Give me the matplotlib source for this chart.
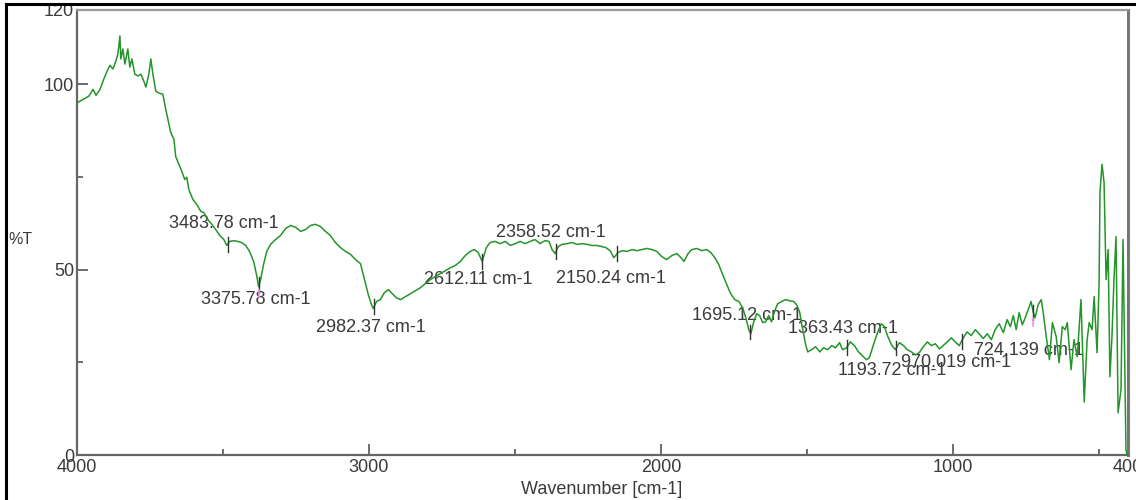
import numpy as np
import matplotlib
matplotlib.use("Agg")
import matplotlib.pyplot as plt
from matplotlib.lines import Line2D
from matplotlib.ticker import FixedLocator

plt.rcParams['font.family'] = ['Liberation Sans', 'DejaVu Sans']

# FTIR spectrum: wavenumber (cm-1) and transmittance (%T)
wavenumber = [
    3997, 3979, 3959, 3945, 3935, 3925, 3918, 3908, 3897, 3887, 3877, 3867, 3860, 3853, 3850,
    3843, 3836, 3826, 3819, 3812, 3802, 3791, 3781, 3771, 3764, 3754, 3747, 3740, 3730, 3720,
    3706, 3696, 3685, 3679, 3668, 3662, 3651, 3641, 3631, 3624, 3617, 3603, 3590, 3576, 3566,
    3552, 3538, 3525, 3511, 3497, 3487, 3477, 3463, 3450, 3436, 3422, 3409, 3395, 3385, 3378,
    3371, 3361, 3350, 3337, 3320, 3303, 3285, 3268, 3251, 3234, 3217, 3200, 3183, 3166, 3149,
    3132, 3115, 3097, 3080, 3063, 3046, 3029, 3015, 3002, 2991, 2985, 2974, 2961, 2947, 2933,
    2920, 2906, 2892, 2875, 2858, 2841, 2824, 2807, 2790, 2773, 2756, 2738, 2721, 2704, 2687,
    2670, 2653, 2639, 2626, 2612, 2598, 2585, 2568, 2550, 2533, 2516, 2499, 2482, 2465, 2448,
    2431, 2414, 2397, 2383, 2373, 2362, 2352, 2338, 2321, 2304, 2287, 2270, 2253, 2236, 2219,
    2202, 2188, 2174, 2161, 2147, 2133, 2116, 2099, 2082, 2065, 2048, 2031, 2014, 1997, 1980,
    1962, 1945, 1931, 1921, 1907, 1894, 1877, 1860, 1843, 1829, 1815, 1802, 1788, 1774, 1761,
    1747, 1733, 1720, 1709, 1699, 1692, 1682, 1672, 1662, 1651, 1641, 1631, 1621, 1610, 1600,
    1586, 1573, 1559, 1545, 1535, 1525, 1514, 1504, 1497, 1484, 1470, 1456, 1443, 1429, 1415,
    1402, 1388, 1378, 1364, 1351, 1337, 1323, 1310, 1296, 1286, 1272, 1258, 1245, 1234, 1224,
    1210, 1197, 1183, 1169, 1156, 1142, 1128, 1115, 1101, 1087, 1074, 1060, 1046, 1033, 1019,
    1005, 992, 978, 964, 951, 937, 923, 910, 896, 882, 868, 855, 841, 827, 814,
    803, 793, 783, 773, 762, 752, 742, 732, 725, 718, 708, 697, 690, 680, 669,
    659, 646, 636, 625, 615, 608, 595, 585, 574, 561, 550, 540, 533, 523, 516,
    506, 499, 496, 489, 482, 475, 468, 462, 455, 448, 441, 434, 424, 417, 407,
    403,
]
transmittance = [
    95.1, 95.9, 96.8, 98.6, 97.0, 98.1, 99.2, 101.4, 103.5, 105.1, 104.1, 106.2, 108.1, 113.0, 106.8,
    109.5, 105.4, 109.5, 104.6, 106.8, 102.7, 102.2, 102.7, 100.8, 99.2, 102.7, 106.8, 102.7, 98.1, 97.6,
    97.3, 93.2, 89.2, 87.0, 85.1, 80.5, 78.4, 76.5, 74.3, 74.9, 71.6, 68.9, 67.6, 65.7, 65.4,
    63.5, 62.2, 60.8, 59.2, 58.1, 56.5, 57.6, 57.8, 57.6, 57.3, 56.5, 54.9, 52.2, 48.6, 45.4,
    47.3, 51.4, 54.9, 56.8, 58.1, 59.2, 61.1, 61.9, 61.4, 60.3, 60.8, 61.9, 62.2, 61.6, 60.3,
    59.2, 57.3, 55.9, 54.9, 54.1, 52.7, 51.6, 47.3, 43.2, 40.5, 39.5, 41.4, 41.9, 43.8, 44.6,
    43.5, 42.4, 41.9, 42.7, 43.5, 44.3, 45.1, 46.2, 47.3, 48.1, 48.9, 49.7, 50.5, 51.1, 52.2,
    53.8, 54.9, 55.4, 54.6, 52.2, 55.9, 57.3, 57.6, 57.0, 57.6, 56.5, 57.0, 57.6, 57.0, 57.6,
    58.1, 57.0, 57.8, 57.6, 55.4, 54.3, 56.2, 56.8, 57.0, 57.3, 56.8, 57.0, 56.8, 56.5, 56.5,
    56.2, 55.9, 55.1, 53.2, 54.6, 55.1, 54.9, 55.4, 55.1, 55.4, 55.7, 55.4, 54.9, 53.5, 52.7,
    53.8, 54.3, 53.2, 52.2, 54.3, 55.4, 55.7, 55.1, 55.4, 54.6, 53.2, 51.4, 48.6, 45.9, 43.5,
    41.9, 41.4, 39.7, 37.0, 33.8, 32.7, 35.9, 38.1, 37.6, 35.7, 35.9, 37.6, 35.9, 38.9, 40.8,
    41.4, 41.9, 41.6, 41.4, 40.5, 38.6, 33.8, 29.7, 27.8, 28.4, 29.2, 27.8, 28.9, 28.4, 29.5,
    28.9, 30.3, 28.4, 28.9, 30.5, 29.5, 27.8, 26.8, 25.7, 26.2, 29.7, 33.0, 35.4, 34.6, 32.2,
    29.7, 28.4, 30.3, 29.5, 28.4, 27.8, 27.0, 27.6, 29.2, 30.5, 29.5, 30.0, 28.6, 29.5, 30.5,
    31.6, 30.5, 29.5, 31.6, 33.2, 32.2, 33.8, 32.7, 31.4, 32.7, 31.1, 33.8, 35.4, 33.0, 36.5,
    34.6, 37.6, 33.8, 38.4, 35.1, 37.0, 39.2, 41.4, 38.6, 37.0, 40.5, 41.9, 38.1, 31.9, 25.7,
    35.7, 31.9, 24.9, 34.6, 33.8, 35.7, 23.0, 31.1, 26.5, 41.9, 14.3, 31.1, 35.7, 33.8, 42.7,
    27.6, 46.5, 70.8, 78.4, 73.5, 47.3, 55.4, 21.1, 31.9, 47.3, 58.9, 11.4, 17.6, 58.1, 1.4,
    0.0,
]

# Picked peaks (cm-1)
peak_positions = [3483.78, 3375.78, 2982.37, 2612.11, 2358.52, 2150.24,
                  1695.12, 1363.43, 1193.72, 970.019, 724.139]
peak_labels = ["3483.78 cm-1", "3375.78 cm-1", "2982.37 cm-1", "2612.11 cm-1",
               "2358.52 cm-1", "2150.24 cm-1", "1695.12 cm-1", "1363.43 cm-1",
               "1193.72 cm-1", "970.019 cm-1", "724.139 cm-1"]
# label centre placement (data coordinates)
label_xy = [(3497, 62.4), (3388, 41.9), (2995, 34.3), (2626, 47.3), (2376, 60.0),
            (2171, 47.6), (1706, 37.6), (1378, 34.1), (1207, 22.7), (988, 24.9),
            (739, 28.1)]

x_tick_values = [4000, 3000, 2000, 1000, 400]
x_tick_labels = ["4000", "3000", "2000", "1000", "400"]
y_tick_values = [0, 50, 100, 120]
y_tick_labels = ["0", "50", "100", "120"]

W, H = 1136, 500
fig = plt.figure(figsize=(W / 100, H / 100), dpi=100)
ax = fig.add_axes([77 / W, 45 / H, (1128 - 77) / W, (455 - 10) / H])

text_color = "#3a3a3a"
fs = 13

ax.plot(wavenumber, transmittance, color="#24952a", lw=1.1, zorder=3)

ax.set_xlim(4000, 400)
ax.set_ylim(0, 120)

# peak markers
wn_sorted = np.array(wavenumber)[::-1]
t_sorted = np.array(transmittance)[::-1]
for pos, lab, (lx, ly) in zip(peak_positions, peak_labels, label_xy):
    t = np.interp(pos, wn_sorted, t_sorted)
    ax.plot([pos, pos], [t - 2.0, t + 2.0], color="#333333", lw=1.0, zorder=4)
    ax.text(lx, ly, lab, ha="center", va="center", fontsize=fs, color=text_color, zorder=2)
for pos in (3375.78, 724.139):
    t = np.interp(pos, wn_sorted, t_sorted)
    ax.plot([pos, pos], [t - 3.5, t - 1.5], color="#f08cf0", lw=1.2, zorder=4)

# ticks
ax.xaxis.set_major_locator(FixedLocator(x_tick_values))
ax.set_xticklabels(x_tick_labels)
ax.xaxis.set_minor_locator(FixedLocator([3500, 2500, 1500, 500]))
ax.yaxis.set_major_locator(FixedLocator(y_tick_values))
ax.set_yticklabels(y_tick_labels)
ax.yaxis.set_minor_locator(FixedLocator([25, 75]))
ax.tick_params(axis="both", which="major", direction="in", length=8, width=1.2,
               color="#555555", labelsize=fs, labelcolor=text_color, pad=4)
ax.tick_params(axis="both", which="minor", direction="in", length=4, width=1.2,
               color="#555555")
ax.tick_params(axis="y", pad=2)
ax.tick_params(axis="x", pad=3)

for side in ("left", "bottom"):
    ax.spines[side].set_color("#666666")
    ax.spines[side].set_linewidth(1.6)
ax.spines["top"].set_color("#999999")
ax.spines["top"].set_linewidth(1.6)
ax.spines["right"].set_color("#777777")
ax.spines["right"].set_linewidth(2.2)

fig.text(8 / W, 1 - 240 / H, "%T", ha="left", va="center", fontsize=fs - 1.5, color=text_color)
fig.text(602 / W, 1 - 490 / H, "Wavenumber [cm-1]", ha="center", va="center",
         fontsize=fs, color=text_color)

# outer frame along top and left edges
fig.add_artist(Line2D([6 / W, 6 / W], [0, 1 - 4 / H], transform=fig.transFigure,
                      color="black", lw=2.2))
fig.add_artist(Line2D([6 / W, 1], [1 - 4 / H, 1 - 4 / H], transform=fig.transFigure,
                      color="black", lw=2.2))

fig.savefig("out.png", dpi=100)
